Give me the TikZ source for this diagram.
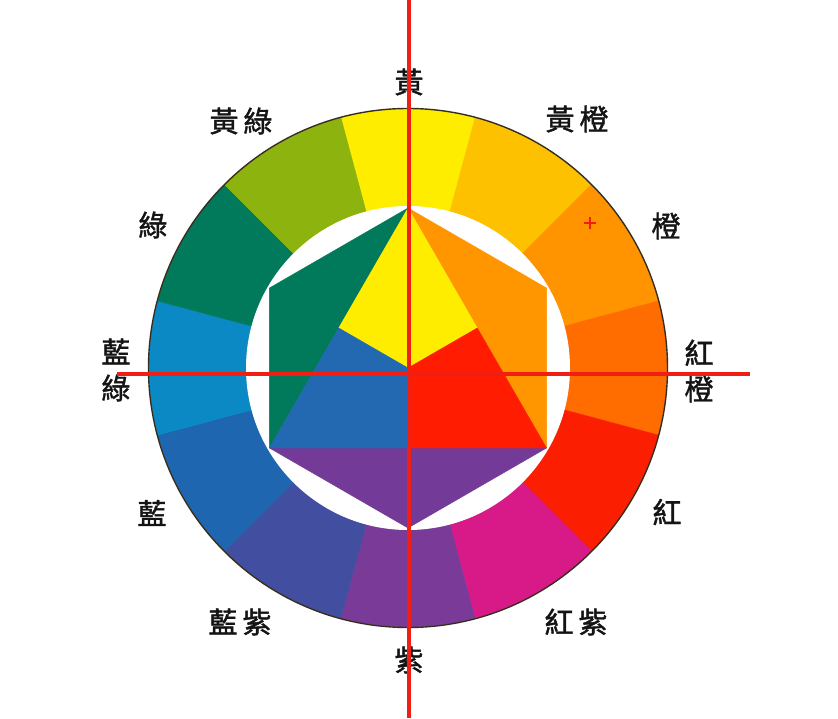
\documentclass[tikz,border=0pt]{standalone}
\usepackage{fontspec}
\usetikzlibrary{calc}
\newfontfamily\cjk[FakeBold=1.4]{Noto Sans CJK TC}
\definecolor{cY}{RGB}{255,237,0}
\definecolor{cYO}{RGB}{253,193,0}
\definecolor{cO}{RGB}{255,148,0}
\definecolor{cRO}{RGB}{255,108,0}
\definecolor{cR}{RGB}{252,30,0}
\definecolor{cRV}{RGB}{215,26,135}
\definecolor{cV}{RGB}{122,58,152}
\definecolor{cBV}{RGB}{66,78,160}
\definecolor{cB}{RGB}{30,102,176}
\definecolor{cBG}{RGB}{10,137,197}
\definecolor{cG}{RGB}{0,122,90}
\definecolor{cYG}{RGB}{141,179,15}
\definecolor{iR}{RGB}{255,28,0}
\definecolor{iB}{RGB}{35,105,178}
\definecolor{iO}{RGB}{255,150,0}
\definecolor{iV}{RGB}{115,58,152}
\definecolor{rim}{RGB}{55,45,30}
\definecolor{guide}{RGB}{242,30,20}
\definecolor{ink}{RGB}{20,20,20}
\begin{document}
\begin{tikzpicture}[x=1pt,y=1pt,
  lbl/.style={font=\cjk\fontsize{29}{36}\selectfont, text=ink, inner sep=0pt, align=center},
  guideline/.style={draw=guide, line width=3.2pt},
  patch/.style={line width=0.4pt, line join=round}]
\useasboundingbox (-408,-350) rectangle (430,368);
\fill[white] (-408,-350) rectangle (430,368);
% outer ring of twelve sectors
\foreach \ang/\col in {90/cY,60/cYO,30/cO,0/cRO,-30/cR,-60/cRV,-90/cV,-120/cBV,-150/cB,-180/cBG,-210/cG,-240/cYG}{
  \filldraw[\col, patch] (0,0) -- (\ang-15:259) arc[start angle=\ang-15, end angle=\ang+15, radius=259] -- cycle;
}
\draw[rim, line width=1.4pt] (0,0) circle (259.5);
\fill[white] (0,0) circle (162);
% inner hexagon and triangle
\coordinate (T) at (90:160);
\coordinate (UR) at (30:160);
\coordinate (LR) at (-30:160);
\coordinate (B) at (-90:160);
\coordinate (LL) at (-150:160);
\coordinate (UL) at (150:160);
\coordinate (O) at (0,0);
\coordinate (M1) at ($(T)!0.5!(LR)$);
\coordinate (M2) at ($(LR)!0.5!(LL)$);
\coordinate (M3) at ($(LL)!0.5!(T)$);
\filldraw[iO, patch] (T) -- (UR) -- (LR) -- cycle;
\filldraw[cG, patch] (T) -- (UL) -- (LL) -- cycle;
\filldraw[iV, patch] (LL) -- (B) -- (LR) -- cycle;
\filldraw[cY, patch] (T) -- (M1) -- (O) -- (M3) -- cycle;
\filldraw[iR, patch] (O) -- (M1) -- (LR) -- (M2) -- cycle;
\filldraw[iB, patch] (O) -- (M2) -- (LL) -- (M3) -- cycle;
% labels
\node[lbl] (lY) at (1,286) {黃};
\node[lbl] (lYO) at (169,249) {黃\hspace{5pt}橙};
\node[lbl] (lO) at (258,142) {橙};
\node[lbl] (lRO) at (291,-3) {紅\\橙};
\node[lbl] (lR) at (259,-144) {紅};
\node[lbl] (lRV) at (168,-254) {紅\hspace{5pt}紫};
\node[lbl] (lV) at (1,-292) {紫};
\node[lbl] (lBV) at (-168,-254) {藍\hspace{5pt}紫};
\node[lbl] (lB) at (-256,-145) {藍};
\node[lbl] (lBG) at (-292,-2) {藍\\綠};
\node[lbl] (lG) at (-255,143) {綠};
\node[lbl] (lYG) at (-167,247) {黃\hspace{5pt}綠};
% red guide lines
\coordinate (vtop) at (1,368);
\coordinate (vbot) at (1,-350);
\coordinate (hl) at (-291,-6);
\coordinate (hr) at (342,-6);
\draw[guideline] (vtop) -- (vbot);
\draw[guideline] (hl) -- (hr);
\coordinate (cross) at (182,145);
\draw[guide, line width=1.5pt] ($(cross)+(-6,0)$) -- ($(cross)+(6,0)$);
\draw[guide, line width=1.5pt] ($(cross)+(0,-6)$) -- ($(cross)+(0,6)$);
\end{tikzpicture}
\end{document}
